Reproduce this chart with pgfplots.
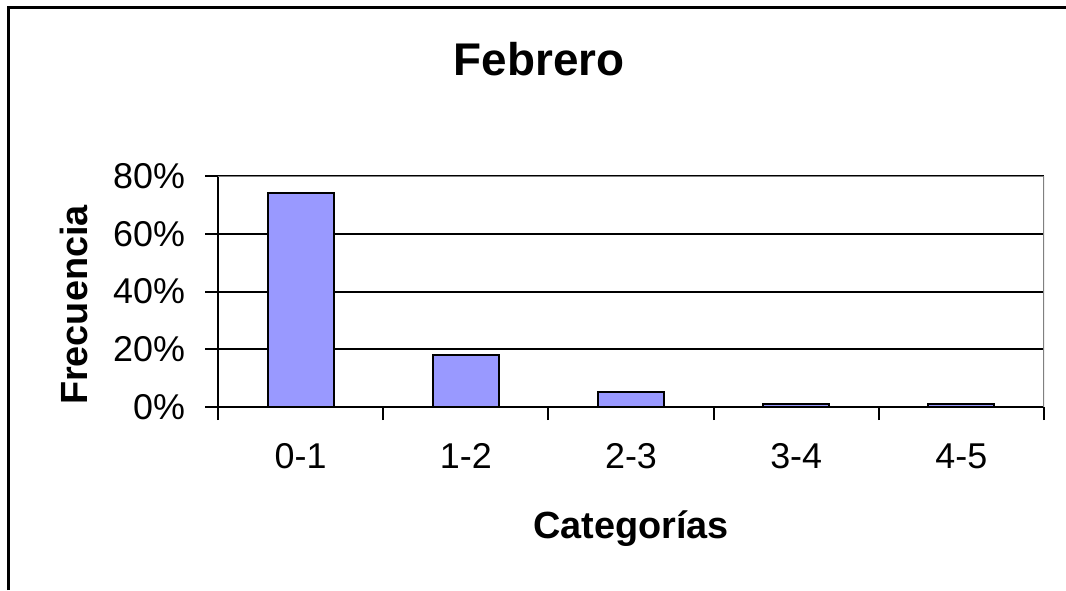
\documentclass[border=0pt]{standalone}
\usepackage{pgfplots}
\pgfplotsset{compat=1.18}
\usepackage{fontspec}
\setmainfont{Liberation Sans}
\definecolor{barblue}{HTML}{9999FF}
\definecolor{framegray}{HTML}{808080}
\begin{document}
\begin{tikzpicture}[x=1bp,y=1bp]
\useasboundingbox (0,0) rectangle (533,295);
% outer chart frame (right and bottom edges are cut off)
\draw[line width=1.5bp] (4,0) -- (4,291) -- (533,291);
\node[font=\fontsize{23}{27}\selectfont\bfseries, anchor=base] at (269.5,257.5) {Febrero};
\node[font=\fontsize{19}{22}\selectfont\bfseries, anchor=base, rotate=90] at (43.5,142.5) {Frecuencia};
\begin{axis}[
    at={(109bp,91.5bp)}, anchor=south west,
    scale only axis, width=413bp, height=115.5bp,
    ybar, bar width=33bp,
    xmin=-0.5, xmax=4.5, ymin=0, ymax=80,
    axis x line*=bottom, axis y line*=left,
    axis line style={line width=1bp, black, -},
    xtick={0,1,2,3,4},
    xticklabels={0-1,1-2,2-3,3-4,4-5},
    major x tick style={draw=none},
    minor xtick={-0.5,0.5,1.5,2.5,3.5,4.5},
    minor x tick style={line width=1bp, black},
    minor tick length=6.5bp,
    ytick={0,20,40,60,80},
    yticklabels={0\%,20\%,40\%,60\%,80\%},
    major y tick style={line width=1bp, black},
    major tick length=6.5bp,
    tick align=outside,
    ymajorgrids, grid style={line width=1bp, black},
    tick label style={font=\fontsize{18}{21}\selectfont},
    xticklabel style={anchor=base, yshift=-24bp},
    yticklabel style={xshift=-6.5bp},
    xlabel={Categorías},
    xlabel style={font=\fontsize{19}{22}\selectfont\bfseries,
      at={(axis description cs:0.5,0)}, anchor=base, yshift=-65.5bp},
  ]
  \addplot[draw=black, line width=1bp, fill=barblue] coordinates {
    (0,74) (1,18) (2,5.2) (3,1) (4,1)
  };
  \draw[framegray, line width=1bp] (rel axis cs:0,1) -- (rel axis cs:1,1) -- (rel axis cs:1,0);
\end{axis}
\end{tikzpicture}
\end{document}
